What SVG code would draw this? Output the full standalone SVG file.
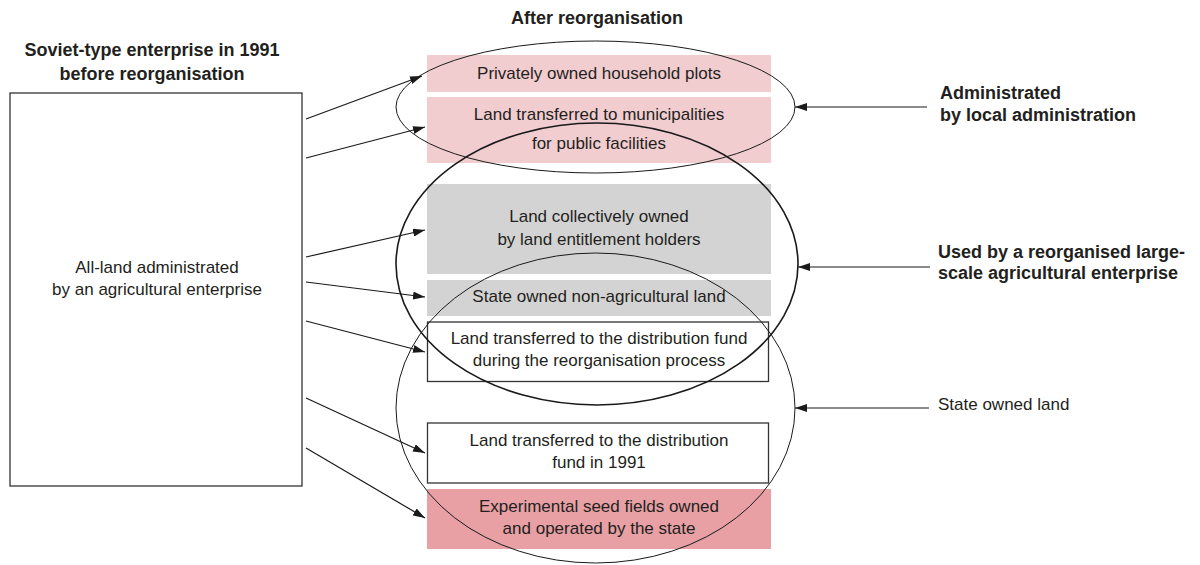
<svg xmlns="http://www.w3.org/2000/svg" width="1200" height="565" viewBox="0 0 1200 565">
<defs>
<marker id="ah" markerWidth="12" markerHeight="8" refX="12" refY="4" orient="auto" markerUnits="userSpaceOnUse">
<path d="M0,0 L12,4 L0,8 Z" fill="#1a1a1a"/>
</marker>
<style>
text{font-family:"Liberation Sans",Arial,sans-serif;fill:#231f20;font-size:17px;}
.b{font-weight:bold;font-size:18px;}
.c{text-anchor:middle;}
.ln{stroke:#1a1a1a;stroke-width:1.2;fill:none;}
.el{stroke:#1a1a1a;stroke-width:1;fill:none;}
.elb{stroke:#1a1a1a;stroke-width:1.6;fill:none;}
</style>
</defs>
<rect width="1200" height="565" fill="#ffffff"/>

<text class="b c" x="597" y="24">After reorganisation</text>

<g id="source">
<text class="b c" x="152" y="56">Soviet-type enterprise in 1991</text>
<text class="b c" x="152" y="80">before reorganisation</text>
<rect x="10" y="93" width="292" height="393" fill="#fff" stroke="#333" stroke-width="1.3"/>
<text class="c" x="157" y="273">All-land administrated</text>
<text class="c" x="157" y="295">by an agricultural enterprise</text>
</g>

<g id="plots">
<rect x="427" y="55" width="344" height="37" fill="#f2cdd0"/>
<text class="c" x="599" y="79">Privately owned household plots</text>
</g>
<g id="municipal">
<rect x="427" y="97" width="344" height="66" fill="#f2cdd0"/>
<text class="c" x="599" y="120">Land transferred to municipalities</text>
<text class="c" x="599" y="149">for public facilities</text>
</g>
<g id="collective">
<rect x="427" y="184" width="344" height="90" fill="#d3d3d3"/>
<text class="c" x="599" y="222">Land collectively owned</text>
<text class="c" x="599" y="245">by land entitlement holders</text>
</g>
<g id="nonagri">
<rect x="427" y="280" width="344" height="36" fill="#d3d3d3"/>
<text class="c" x="599" y="302">State owned non-agricultural land</text>
</g>
<g id="fund-reorg">
<rect x="427.5" y="322" width="341" height="59.5" fill="none" stroke="#333" stroke-width="1.3"/>
<text class="c" x="599" y="344">Land transferred to the distribution fund</text>
<text class="c" x="599" y="366">during the reorganisation process</text>
</g>
<g id="fund-1991">
<rect x="427.5" y="423" width="341" height="60" fill="none" stroke="#333" stroke-width="1.3"/>
<text class="c" x="599" y="446">Land transferred to the distribution</text>
<text class="c" x="599" y="468">fund in 1991</text>
</g>
<g id="seed">
<rect x="427" y="489" width="344" height="60" fill="#e8a0a5"/>
<text class="c" x="599" y="512">Experimental seed fields owned</text>
<text class="c" x="599" y="534">and operated by the state</text>
</g>

<g id="groups">
<ellipse class="el" cx="595.5" cy="107" rx="199.5" ry="66"/>
<ellipse class="elb" cx="597" cy="264" rx="201" ry="141"/>
<ellipse class="el" cx="595.5" cy="408" rx="199.5" ry="155"/>
</g>

<g id="labels">
<text class="b" x="940" y="99">Administrated</text>
<text class="b" x="940" y="121">by local administration</text>
<text class="b" x="938" y="258">Used by a reorganised large-</text>
<text class="b" x="938" y="279">scale agricultural enterprise</text>
<text x="938" y="410">State owned land</text>
</g>

<g id="connectors">
<line class="ln" x1="306" y1="119" x2="422" y2="76" marker-end="url(#ah)"/>
<line class="ln" x1="306" y1="158" x2="425" y2="127" marker-end="url(#ah)"/>
<line class="ln" x1="306" y1="257" x2="425" y2="230" marker-end="url(#ah)"/>
<line class="ln" x1="306" y1="282" x2="425" y2="297" marker-end="url(#ah)"/>
<line class="ln" x1="306" y1="321" x2="425" y2="352" marker-end="url(#ah)"/>
<line class="ln" x1="306" y1="398" x2="425" y2="453" marker-end="url(#ah)"/>
<line class="ln" x1="306" y1="448" x2="425" y2="518" marker-end="url(#ah)"/>
<line class="ln" x1="927" y1="107" x2="795" y2="107" marker-end="url(#ah)"/>
<line class="ln" x1="930" y1="267" x2="798" y2="267" marker-end="url(#ah)"/>
<line class="ln" x1="929" y1="408" x2="795" y2="408" marker-end="url(#ah)"/>
</g>
</svg>
